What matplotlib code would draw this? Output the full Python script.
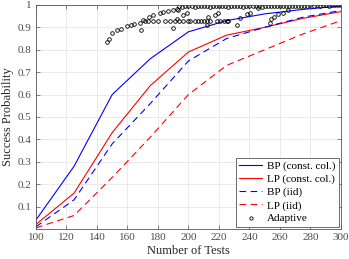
import matplotlib
matplotlib.use("Agg")
import matplotlib.pyplot as plt
import numpy as np

plt.rcParams['font.family'] = ['Liberation Serif', 'DejaVu Serif']

tests = [100, 125, 150, 175, 200, 225, 250, 275, 300]
bp_const = [0.04, 0.28, 0.60, 0.76, 0.88, 0.93, 0.96, 0.98, 0.995]
lp_const = [0.02, 0.16, 0.43, 0.64, 0.79, 0.865, 0.90, 0.94, 0.97]
bp_iid = [0.01, 0.13, 0.38, 0.56, 0.75, 0.85, 0.90, 0.945, 0.975]
lp_iid = [0.005, 0.06, 0.23, 0.41, 0.60, 0.73, 0.80, 0.87, 0.93]

adapt_x = [146.8, 147.9, 149.6, 152.9, 155.7, 159.9, 162.3, 164.5, 168.2, 168.6,
           170.4, 171.5, 174.3, 176.9, 181.3, 183.5, 186.8, 190.0, 192.3,
           173.6, 176.9, 180.2, 184.6, 187.9, 190.0, 192.7,
           193.3, 196.6, 198.8, 191.5, 194.0, 196.5, 199.5, 201.0,
           204.0, 206.0, 208.0, 210.0, 212.0, 214.0, 213.0, 212.0,
           217.4, 219.5, 219.0, 221.0, 223.0, 225.0, 226.0,
           231.6, 233.8, 238.2, 240.3, 245.4,
           253.4, 254.1, 256.3, 258.9, 262.2, 265.5,
           194, 196, 198, 200, 202, 204, 206, 208, 210, 212, 214, 216, 218, 220,
           222, 224, 226, 228, 230, 232, 234, 236, 238, 240, 242, 244, 246, 248,
           250, 252, 254, 256, 258, 260, 262, 264, 266, 268, 270, 272, 274, 276,
           278, 280, 282, 284, 286, 288, 290, 292, 294, 296, 298, 300]
adapt_y = [0.834, 0.850, 0.874, 0.889, 0.892, 0.906, 0.912, 0.915, 0.921, 0.886,
           0.933, 0.928, 0.948, 0.955, 0.963, 0.967, 0.974, 0.977, 0.980,
           0.926, 0.926, 0.926, 0.926, 0.926, 0.899, 0.936,
           0.977, 0.955, 0.963, 0.930, 0.930, 0.930, 0.930, 0.930,
           0.930, 0.930, 0.930, 0.930, 0.930, 0.930, 0.948, 0.911,
           0.955, 0.963, 0.930, 0.930, 0.930, 0.930, 0.930,
           0.911, 0.941, 0.960, 0.966, 0.985,
           0.918, 0.936, 0.948, 0.960, 0.966, 0.977,
           0.996, 0.990, 0.996, 0.993, 0.996, 0.990, 0.996, 0.993, 0.996, 0.996,
           0.990, 0.996, 0.993, 0.996, 0.996, 0.993, 0.990, 0.996, 0.996, 0.993,
           0.996, 0.990, 0.996, 0.996, 0.993, 0.996, 0.996, 0.990, 0.996, 0.996,
           0.993, 0.996, 0.996, 0.996, 0.993, 0.996, 0.996, 0.996, 0.996, 0.993,
           0.996, 0.996, 0.996, 0.998, 0.996, 0.998, 0.996, 0.998, 0.998, 0.996,
           0.998, 0.998, 0.998, 0.998]

xticks = [100, 120, 140, 160, 180, 200, 220, 240, 260, 280, 300]
yticks = [0.1, 0.2, 0.3, 0.4, 0.5, 0.6, 0.7, 0.8, 0.9, 1.0]
ytick_labels = ['0.1', '0.2', '0.3', '0.4', '0.5', '0.6', '0.7', '0.8', '0.9', '1']

fig = plt.figure(figsize=(3.49, 2.59), dpi=100)
ax = fig.add_axes([0.103, 0.116, 0.874, 0.865])

ax.plot(tests, bp_const, color='#0000ff', lw=0.8, label='BP (const. col.)')
ax.plot(tests, lp_const, color='#ff0000', lw=0.8, label='LP (const. col.)')
ax.plot(tests, bp_iid, color='#0000ff', lw=0.8, ls=(0, (6, 4)), label='BP (iid)')
ax.plot(tests, lp_iid, color='#ff0000', lw=0.8, ls=(0, (6, 4)), label='LP (iid)')
ax.plot(adapt_x, adapt_y, ls='none', marker='o', ms=2.6, mfc='none', mec='black',
        mew=0.6, label='Adaptive')

ax.set_xlim(100, 300)
ax.set_ylim(0, 1)
ax.set_xticks(xticks)
ax.set_yticks(yticks)
ax.set_yticklabels(ytick_labels)
ax.grid(True, color='#e6e6e6', lw=0.6)
ax.set_axisbelow(True)
ax.tick_params(direction='in', top=True, right=True, length=3, width=0.5,
               labelsize=8, colors='#555555', labelcolor='#4d4d4d', pad=3)
for s in ax.spines.values():
    s.set_linewidth(0.6)
    s.set_color('#555555')
ax.set_xlabel('Number of Tests', fontsize=9, color='#262626', labelpad=2)
ax.set_ylabel('Success Probability', fontsize=9, color='#262626', labelpad=3)

leg = ax.legend(loc='lower right', fontsize=8, frameon=True, fancybox=False,
                edgecolor='#555555', framealpha=1, borderpad=0.3,
                labelspacing=0.28, handlelength=2.1, handletextpad=0.4,
                borderaxespad=0.2, markerscale=0.9)
leg.get_frame().set_linewidth(0.6)

fig.savefig('out.png', dpi=100)
